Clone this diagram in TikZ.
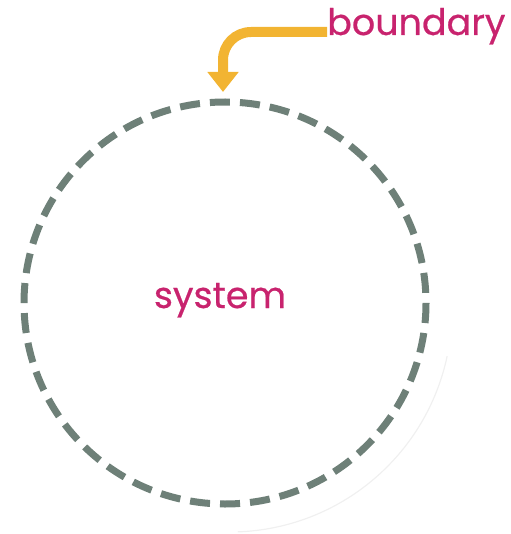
\documentclass[tikz,border=0pt]{standalone}
\usepackage{fontspec}
\setmainfont{Poppins}
\newfontfamily\lblfont[FakeBold=0.6]{Poppins}
\usetikzlibrary{arrows.meta}
\definecolor{ring}{RGB}{110,128,120}
\definecolor{arrowc}{RGB}{242,180,50}
\definecolor{labelc}{RGB}{200,35,110}
\tikzset{
  lbl/.style={text=labelc, inner sep=0pt, font=\lblfont\fontsize{36.5}{40}\selectfont},
  ringline/.style={draw=ring, line width=7pt, dash pattern=on 20.07pt off 10pt},
  pointer/.style={draw=arrowc, line width=10pt, rounded corners=28pt, -{Triangle[length=20pt,width=30pt]}}
}
\begin{document}
\begin{tikzpicture}[x=1pt,y=-1pt]
\useasboundingbox (0,0) rectangle (510,534);
\draw[black!6, line width=1.2pt] (230,310) ++(12:222) arc[start angle=12,end angle=88,radius=222];
\draw[ringline] (225,303) circle (201);
\node[lbl, anchor=base west] (b) at (327,35) {boundary};
\node[lbl, anchor=base] (s) at (220,308) {system};
\coordinate (top) at (223,92);
\draw[pointer] (b.west |- 0,32) -| (top);
\end{tikzpicture}
\end{document}
